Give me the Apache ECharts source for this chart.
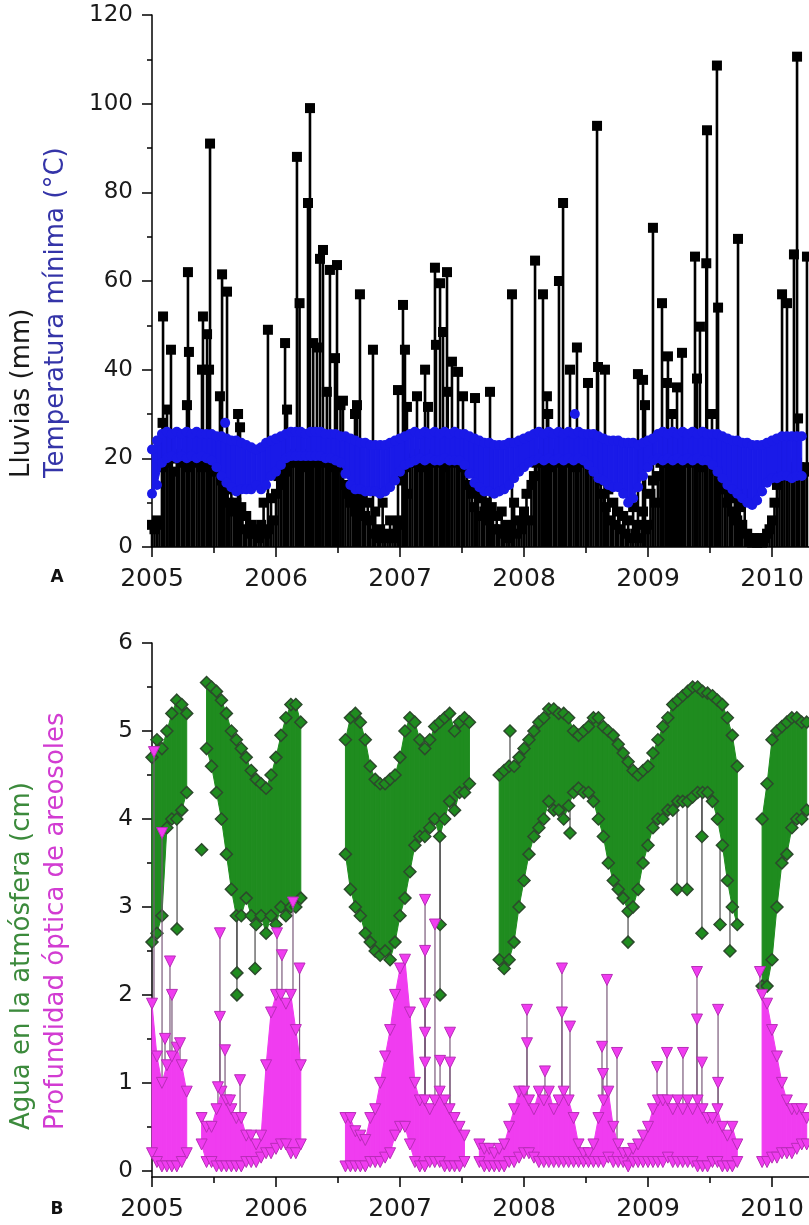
<!DOCTYPE html>
<html><head><meta charset="utf-8">
<script src="https://cdn.jsdelivr.net/npm/echarts@6/dist/echarts.min.js"></script>
<style>html,body{margin:0;padding:0;background:#fff}#c{width:809px;height:1225px}</style>
</head><body><div id="c"></div>
<script>
// ---------- DATA ----------
const YEAR0 = 2005;
const RAIN_STEP = 0.02;   // years between dense rain samples
const BAND_STEP = 0.04;   // years between envelope samples
const yearTicks = [2005, 2006, 2007, 2008, 2009, 2010];
const rainTicks = [0, 20, 40, 60, 80, 100, 120];
const bTicks = [0, 1, 2, 3, 4, 5, 6];
const bMinorTicks = [0.5, 1.5, 2.5, 3.5, 4.5, 5.5];

// Rainfall (mm), dense low values, one every RAIN_STEP from 2005.0
const rainDense = [
 5,4,6,5, 18,20,19,21,20,17,20,21,19,20,18,21,20,19,21,20,18,20,21,19,20,17,19,20, 15,12,14,10,13, 8,10,6,9,4,7,3,5, 3,4,2,5,10,3,4,11,6,
 12,16,14,18,17,19, 20,21,19,20,21,20,18,21,20,19,21,20,20,19,21,20,18,21,20,19,20,18, 14,12,10,13,8,11,9,12,7,10,6, 3,8,2,4,10,3,2,6,2,3,5,
 6,15,18,12, 19,20,21,19,20,18,21,20,19,21,20,20,19,21,18,20,21,19,20,21,20,19,18,17, 14,12,9,13,7,11,8,10,6,9,4,7, 4,8,3,5,2,4,10,3,6,4,
 8,12,6,14,16, 19,20,21,19,20,21,18,20,21,19,20,21,20,19,21,20,18,20,21,19,20,21,19,20,18,17, 15,12,9,13,6,10,5,8,4,7, 3,6,2,9,3,5,2,8,4,
 5,12,15,10,16, 19,20,21,19,20,21,20,18,21,20,19,21,20,19,21,20,18,20,21,19,20,21,19,18,17, 16,13,10,12,8,11,6,9,5,12,3, 2,1,2,1,2,1,2,3,4,
 6,10,14,16,17,18,16,18,17,18,19,18,17,18,17
];
// Rainfall (mm), tall events [year, mm]
const rainPeaks = [
 [2005.085,28],[2005.089,52],[2005.121,31],[2005.153,44.5],[2005.282,32],[2005.29,62],[2005.298,44],[2005.403,40],[2005.411,52],[2005.444,48],[2005.46,40],[2005.468,91],[2005.548,34],[2005.565,61.5],[2005.605,57.6],[2005.694,30],[2005.71,27],
 [2005.935,49],[2006.073,46],[2006.089,31],[2006.169,88],[2006.19,55],[2006.258,77.6],[2006.274,99],[2006.30,46],[2006.33,45],[2006.355,65],[2006.379,67],[2006.41,35],[2006.435,62.5],[2006.476,42.6],[2006.492,63.6],[2006.52,32],[2006.54,33],[2006.637,30],[2006.653,32],[2006.677,57],[2006.782,44.5],
 [2006.984,35.4],[2007.024,54.6],[2007.04,44.5],[2007.056,31.6],[2007.137,34],[2007.202,40],[2007.226,31.6],[2007.282,63],[2007.29,45.6],[2007.323,59.5],[2007.347,48.5],[2007.379,62],[2007.385,35],[2007.419,41.8],[2007.468,39.5],[2007.508,34],[2007.605,33.6],[2007.726,35],
 [2007.903,57],[2008.089,64.6],[2008.153,57],[2008.185,34],[2008.195,30],[2008.282,60],[2008.315,77.6],[2008.371,40],[2008.427,45],[2008.516,37],[2008.589,95],[2008.597,40.6],[2008.653,40],
 [2008.919,39],[2008.96,37.7],[2008.976,32],[2009.04,72],[2009.113,55],[2009.153,37],[2009.161,43],[2009.194,30],[2009.234,36],[2009.274,43.8],[2009.379,65.5],[2009.395,38],[2009.419,49.7],[2009.47,64],[2009.476,94],[2009.516,30],[2009.556,108.6],[2009.565,54],[2009.726,69.5],
 [2010.081,57],[2010.121,55],[2010.177,66],[2010.202,110.6],[2010.21,29],[2010.282,65.5]
];

// Minimum temperature (°C): lower / upper envelope of daily values, one every BAND_STEP
const tMinLo = [
 12,14,19,20,20.5,20,20.5,20,20.5,20,20.5,20,19.5,18,16,14.5,13.5,12.5,13,13,13,14,13,14,16,
 17,18.5,20,20.5,20.5,20.5,20.5,20.5,20.5,20.5,20,20,19.5,19,16.5,14,13,13,12.5,12.5,12.5,12,12.5,13.5,15,
 17,18.5,19,19.5,20,19.5,20,19.5,19.5,20,19.5,19.5,19.5,18.5,16.5,14.5,13.5,12.5,12.5,12,12.5,13,14,15.5,17,
 18,19,19.5,20,19.5,20,19.5,20,19.5,20,19.5,20,19.5,18.5,17,15.5,15,14,13.5,13.5,12,10,11,13.5,
 16,18,19.5,20,19.5,20,19.5,20,19.5,20,19.5,20,19.5,19.5,18.5,17,15.5,14,13,12,11,10,9.5,10.5,12.5,
 14.5,15.5,15.5,16,16,15.5,16,16
];
const tMinHi = [
 22,24,25.5,26,25.5,26,25.5,26,25.5,26,25.5,25.5,25.5,25,25,24.5,24,24,23.5,23,22.5,22,22.5,23.5,24,
 24.5,25,25.5,26,26,26,25.5,26,26,26,25.5,25.5,25.5,25,25,24.5,24,23.5,23.5,23,23,23,23,23.5,24,
 24.5,25,25.5,26,25.5,26,25.5,26,25.5,26,25.5,26,25.5,25.5,25,24.5,24,23.5,23.5,23,23,23,23.5,23.5,24,
 24.5,25,25.5,26,25.5,26,25.5,26,25.5,26,25.5,26,25.5,25.5,25.5,25,24.5,24,24,24,23.5,23.5,23.5,23,23.5,
 24,24.5,25.5,26,25.5,26,25.5,26,25.5,26,25.5,26,25.5,25.5,25.5,25,24.5,24,24,23.5,23.5,23,23,23,23.5,
 24,24.5,25,25,25,25,25,25
];
const tMinOutliers = [[2005.59, 28], [2008.41, 30]];

// Precipitable water (cm): envelopes, one every BAND_STEP (null = no data)
const waterLo = [
 2.6,2.7,2.9,3.9,4.0,4.0,4.1,4.3, null,null, 3.65,
 4.8,4.6,4.3,4.0,3.6,3.2,2.9,2.9,3.1,2.9,2.8,2.9,2.7,2.9,2.8,3.0,2.9,3.0,3.0,3.1,
 null,null,null,null,null,null,null,null,
 3.6,3.2,3.0,2.9,2.7,2.6,2.5,2.45,2.5,2.4,2.6,2.9,3.1,3.4,3.7,3.8,3.8,3.9,4.0,3.8,4.0,4.2,4.1,4.3,4.3,4.4,
 null,null,null,null,null,
 2.4,2.3,2.4,2.6,3.0,3.3,3.6,3.8,3.9,4.0,4.2,4.1,4.1,4.0,4.15,4.3,4.35,4.3,4.3,4.2,4.0,3.8,3.5,3.3,3.2,3.1,2.95,3.0,3.2,3.5,3.7,3.9,4.0,4.0,4.1,4.1,4.2,4.2,4.2,4.25,4.3,4.3,4.3,4.2,4.0,3.7,3.3,3.0,2.8,
 null,null,null,null,
 2.1,2.1,2.4,3.0,3.5,3.6,3.9,4.0,4.0,4.1
];
const waterHi = [
 4.7,4.9,4.8,5.0,5.2,5.35,5.3,5.2, null,null, 3.65,
 5.55,5.5,5.45,5.35,5.2,5.0,4.9,4.8,4.7,4.55,4.45,4.4,4.35,4.5,4.7,4.95,5.15,5.3,5.3,5.1,
 null,null,null,null,null,null,null,null,
 4.9,5.15,5.2,5.1,4.9,4.6,4.45,4.4,4.4,4.45,4.5,4.7,5.0,5.15,5.1,4.9,4.8,4.9,5.05,5.1,5.15,5.2,5.0,5.1,5.15,5.1,
 null,null,null,null,null,
 4.5,4.55,4.6,4.6,4.7,4.8,4.9,5.0,5.1,5.15,5.25,5.25,5.2,5.2,5.15,5.0,4.95,5.0,5.05,5.15,5.15,5.05,5.0,4.95,4.85,4.75,4.65,4.55,4.5,4.55,4.6,4.75,4.9,5.05,5.15,5.3,5.35,5.4,5.45,5.5,5.5,5.45,5.43,5.4,5.35,5.3,5.15,4.95,4.6,
 null,null,null,null,
 4.0,4.4,4.9,5.0,5.05,5.1,5.15,5.15,5.1,5.1
];
const waterOutliers = [
 [2005.202,2.75],[2005.685,2.0],[2005.685,2.25],[2005.831,2.3],[2007.323,2.0],[2007.323,2.8],[2007.887,5.0],
 [2008.371,3.84],[2008.839,2.6],[2009.234,3.2],[2009.315,3.2],[2009.435,3.8],[2009.435,2.7],[2009.581,2.8],[2009.661,2.5]
];

// Aerosol optical depth: envelopes, one every BAND_STEP (null = no data)
const aodLo = [
 0.2,0.1,0.05,0.05,0.05,0.05,0.1,0.2, null,null,
 0.3,0.1,0.1,0.05,0.05,0.05,0.05,0.05,0.05,0.1,0.1,0.1,0.15,
 0.2,0.2,0.25,0.3,0.3,0.2,0.2,0.3,
 null,null,null,null,null,null,null,null,
 0.05,0.05,0.05,0.05,0.05,0.1,0.1,0.1,0.15,0.2,0.4,0.5,0.5,0.3,0.1,0.05,0.05,0.1,0.1,0.1,0.05,0.05,0.05,0.05,0.1,
 null,null,
 0.1,0.05,0.05,0.05,0.05,0.05,0.1,0.1,0.15,0.2,0.2,0.15,0.1,0.1,0.1,0.1,0.1,0.1,0.1,0.1,0.1,0.1,0.1,0.1,0.1,0.1,0.15,0.1,0.1,0.1,0.05,0.1,0.1,0.1,0.1,0.1,0.1,0.1,0.15,0.1,0.1,0.1,0.1,0.1,0.05,0.05,0.05,0.1,0.1,0.05,0.05,0.05,0.1,
 null,null,null,null,
 0.1,0.1,0.15,0.15,0.2,0.2,0.2,0.25,0.3,0.3
];
const aodHi = [
 1.9,1.3,1.0,1.2,1.3,1.4,1.2,0.9, null,null,
 0.6,0.5,0.5,0.7,0.9,0.8,0.7,0.6,0.6,0.4,0.4,0.3,0.4,
 1.2,1.8,2.0,2.0,1.9,2.0,1.6,1.2,
 null,null,null,null,null,null,null,null,
 0.6,0.6,0.45,0.4,0.35,0.6,0.7,1.0,1.3,1.6,2.0,2.3,2.4,1.8,1.0,0.8,0.8,0.7,0.8,0.9,0.8,0.7,0.6,0.5,0.4,
 null,null,
 0.3,0.25,0.25,0.2,0.25,0.3,0.5,0.7,0.9,0.9,0.8,0.7,0.9,0.8,0.9,0.7,0.8,0.9,0.8,0.6,0.3,0.2,0.2,0.3,0.6,0.8,0.9,0.5,0.3,0.2,0.2,0.25,0.3,0.4,0.5,0.7,0.8,0.8,0.8,0.7,0.8,0.7,0.8,0.7,0.8,0.7,0.6,0.6,0.7,0.5,0.4,0.5,0.3,
 null,null,null,null,
 2.0,1.9,1.6,1.3,1.0,0.8,0.7,0.7,0.7,0.6
];
const aodOutliers = [
 [2005.016,4.76],[2005.081,3.84],[2005.145,2.38],[2005.161,2.0],[2005.105,1.5],[2005.226,1.45],
 [2005.548,2.7],[2005.548,1.75],[2005.589,1.37],[2005.532,0.95],[2005.71,1.03],[2005.629,0.8],
 [2006.008,2.7],[2006.048,2.45],[2006.137,3.05],[2006.19,2.3],
 [2007.202,3.08],[2007.202,2.5],[2007.202,1.9],[2007.202,1.57],[2007.202,1.23],[2007.282,2.8],[2007.403,1.57],[2007.403,1.23],[2007.323,1.25],
 [2008.024,1.83],[2008.024,1.45],[2008.306,2.3],[2008.306,1.8],[2008.371,1.64],[2008.169,1.13],
 [2008.669,2.17],[2008.629,1.41],[2008.75,1.34],[2008.637,1.1],
 [2009.395,2.26],[2009.395,1.72],[2009.565,1.83],[2009.565,1.0],[2009.153,1.34],[2009.282,1.34],[2009.435,1.23],[2009.073,1.18],
 [2009.903,2.26]
];

// ---------- BUILD ----------
const r4 = v => +v.toFixed(4);
const bandT = i => r4(YEAR0 + i * BAND_STEP);
const rainAll = rainDense.map((v, k) => [r4(YEAR0 + k * RAIN_STEP), v]).concat(rainPeaks);

function bandSegments(lo, hi) {
  const out = [];
  for (let i = 0; i < lo.length - 1; i++) {
    if (lo[i] != null && lo[i + 1] != null && hi[i] > lo[i] && hi[i + 1] > lo[i + 1])
      out.push([bandT(i), lo[i], hi[i], bandT(i + 1), lo[i + 1], hi[i + 1]]);
  }
  return out;
}
function edgePoints(lo, hi) {
  const out = [];
  lo.forEach((v, i) => { if (v != null) { out.push([bandT(i), v]); if (hi[i] !== v) out.push([bandT(i), hi[i]]); } });
  return out;
}
function stems(outl, lo, hi) {
  return outl.map(([x, v]) => {
    const i = Math.round((x - YEAR0) / BAND_STEP);
    let a = v;
    if (lo[i] != null) a = v < lo[i] ? lo[i] : (v > hi[i] ? hi[i] : v);
    return [x, v, a];
  });
}
function bandRender(color) {
  return function (params, api) {
    const a = api.coord([api.value(0), api.value(1)]);
    const b = api.coord([api.value(3), api.value(4)]);
    const c = api.coord([api.value(3), api.value(5)]);
    const d = api.coord([api.value(0), api.value(2)]);
    return { type: 'polygon', shape: { points: [a, b, c, d] }, style: { fill: color, stroke: color, lineWidth: 1 } };
  };
}
function stemRender(color, width) {
  return function (params, api) {
    const p0 = api.coord([api.value(0), api.value(2)]);
    const p1 = api.coord([api.value(0), api.value(1)]);
    return { type: 'line', shape: { x1: p0[0], y1: p0[1], x2: p1[0], y2: p1[1] }, style: { stroke: color, lineWidth: width } };
  };
}

const FONT = 'DejaVu Sans';
const BLUE = '#1a1ae8', GREEN = '#1f8c1f', GREEN_DARK = '#2c4a2c', PINK = '#f03cf0', PINK_DARK = '#b82cb8';

function xAxisFor(g) {
  return {
    type: 'value', gridIndex: g, min: 2005, max: 2011, interval: 1,
    axisLine: { show: true, onZero: false, lineStyle: { color: '#000', width: 1.5 } },
    axisTick: { show: true, length: 10, lineStyle: { color: '#000', width: 1.5 } },
    minorTick: { show: true, splitNumber: 2, length: 6, lineStyle: { color: '#000', width: 1.5 } },
    splitLine: { show: false }, minorSplitLine: { show: false },
    axisLabel: {
      margin: 20, fontFamily: FONT, fontSize: 25, color: '#1a1a1a',
      formatter: v => (yearTicks.indexOf(Math.round(v)) >= 0 && Math.abs(v - Math.round(v)) < 1e-6) ? String(Math.round(v)) : ''
    }
  };
}
const nameStyle = (text, color) => ({ text, font: '26px "DejaVu Sans"', fill: color, align: 'left', verticalAlign: 'middle', textAlign: 'left', textVerticalAlign: 'middle' });

const option = {
  animation: false,
  backgroundColor: '#fff',
  textStyle: { fontFamily: FONT },
  grid: [
    { left: 152, width: 744, top: 15, height: 532, containLabel: false, outerBoundsMode: 'none' },
    { left: 152, width: 744, top: 643, height: 534, containLabel: false, outerBoundsMode: 'none' }
  ],
  xAxis: [xAxisFor(0), xAxisFor(1)],
  yAxis: [
    {
      type: 'value', gridIndex: 0, min: rainTicks[0], max: rainTicks[rainTicks.length - 1], interval: 20,
      axisLine: { show: true, lineStyle: { color: '#000', width: 1.5 } },
      axisTick: { show: true, length: 10, lineStyle: { color: '#000', width: 1.5 } },
      minorTick: { show: true, splitNumber: 2, length: 5, lineStyle: { color: '#000', width: 1.5 } },
      splitLine: { show: false }, minorSplitLine: { show: false },
      axisLabel: { margin: 19, fontFamily: FONT, fontSize: 23, color: '#1a1a1a' }
    },
    {
      type: 'value', gridIndex: 1, min: -0.07, max: 6,
      axisLine: { show: true, lineStyle: { color: '#000', width: 1.5 } },
      axisTick: { show: true, length: 10, customValues: bTicks, lineStyle: { color: '#000', width: 1.5 } },
      splitLine: { show: false },
      axisLabel: { margin: 19, fontFamily: FONT, fontSize: 23, color: '#1a1a1a', customValues: bTicks }
    },
    {
      type: 'value', gridIndex: 1, min: -0.07, max: 6, position: 'left', offset: 0,
      axisLine: { show: false }, axisLabel: { show: false }, splitLine: { show: false },
      axisTick: { show: true, length: 5, customValues: bMinorTicks, lineStyle: { color: '#000', width: 1.5 } }
    }
  ],
  graphic: [
    { type: 'text', x: 22, y: 478, rotation: Math.PI / 2, style: nameStyle('Lluvias (mm)', '#1a1a1a') },
    { type: 'text', x: 56, y: 478, rotation: Math.PI / 2, style: nameStyle('Temperatura mínima (°C)', '#3434a8') },
    { type: 'text', x: 22, y: 1130, rotation: Math.PI / 2, style: nameStyle('Agua en la atmósfera (cm)', '#3c8a3c') },
    { type: 'text', x: 56, y: 1130, rotation: Math.PI / 2, style: nameStyle('Profundidad óptica de areosoles', '#d23cd2') },
    { type: 'text', x: 57, y: 578, style: { text: 'A', font: 'bold 17px "DejaVu Sans"', fill: '#111', align: 'center', verticalAlign: 'middle', textAlign: 'center', textVerticalAlign: 'middle' } },
    { type: 'text', x: 57, y: 1210, style: { text: 'B', font: 'bold 17px "DejaVu Sans"', fill: '#111', align: 'center', verticalAlign: 'middle', textAlign: 'center', textVerticalAlign: 'middle' } }
  ],
  series: [
    // Panel A: rainfall stems + squares
    { type: 'custom', name: 'Lluvias stems', coordinateSystem: 'cartesian2d', xAxisIndex: 0, yAxisIndex: 0, z: 1,
      data: rainAll.map(([t, v]) => [t, v, 0]), renderItem: stemRender('#000', 2.6), encode: { x: 0, y: 1 } },
    { type: 'scatter', name: 'Lluvias', xAxisIndex: 0, yAxisIndex: 0, z: 2, symbol: 'rect', symbolSize: 10,
      itemStyle: { color: '#000', opacity: 1 }, data: rainAll },
    // Panel A: minimum temperature band
    { type: 'custom', name: 'Tmin band', coordinateSystem: 'cartesian2d', xAxisIndex: 0, yAxisIndex: 0, z: 3,
      data: bandSegments(tMinLo, tMinHi), renderItem: bandRender(BLUE), encode: { x: [0, 3], y: [1, 2] } },
    { type: 'scatter', name: 'Temperatura mínima', xAxisIndex: 0, yAxisIndex: 0, z: 4, symbol: 'circle', symbolSize: 10,
      itemStyle: { color: BLUE, opacity: 1 }, data: edgePoints(tMinLo, tMinHi).concat(tMinOutliers) },
    // Panel B: water
    { type: 'custom', name: 'Agua stems', coordinateSystem: 'cartesian2d', xAxisIndex: 1, yAxisIndex: 1, z: 1,
      data: stems(waterOutliers, waterLo, waterHi), renderItem: stemRender('#4a4a4a', 1.2), encode: { x: 0, y: 1 } },
    { type: 'custom', name: 'Agua band', coordinateSystem: 'cartesian2d', xAxisIndex: 1, yAxisIndex: 1, z: 2,
      data: bandSegments(waterLo, waterHi), renderItem: bandRender(GREEN), encode: { x: [0, 3], y: [1, 2] } },
    { type: 'scatter', name: 'Agua', xAxisIndex: 1, yAxisIndex: 1, z: 3, symbol: 'diamond', symbolSize: 12,
      itemStyle: { color: GREEN, borderColor: GREEN_DARK, borderWidth: 1.5, opacity: 1 },
      data: edgePoints(waterLo, waterHi).concat(waterOutliers) },
    // Panel B: aerosol optical depth
    { type: 'custom', name: 'AOD stems', coordinateSystem: 'cartesian2d', xAxisIndex: 1, yAxisIndex: 1, z: 4,
      data: stems(aodOutliers, aodLo, aodHi), renderItem: stemRender('#7a5a7a', 1.2), encode: { x: 0, y: 1 } },
    { type: 'custom', name: 'AOD band', coordinateSystem: 'cartesian2d', xAxisIndex: 1, yAxisIndex: 1, z: 5,
      data: bandSegments(aodLo, aodHi), renderItem: bandRender(PINK), encode: { x: [0, 3], y: [1, 2] } },
    { type: 'scatter', name: 'AOD', xAxisIndex: 1, yAxisIndex: 1, z: 6, symbol: 'triangle', symbolRotate: 180, symbolSize: 11,
      itemStyle: { color: PINK, borderColor: PINK_DARK, borderWidth: 1, opacity: 1 },
      data: edgePoints(aodLo, aodHi).concat(aodOutliers) }
  ]
};

const chart = echarts.init(document.getElementById('c'), null, { renderer: 'canvas' });
chart.setOption(option);
</script>
</body></html>
